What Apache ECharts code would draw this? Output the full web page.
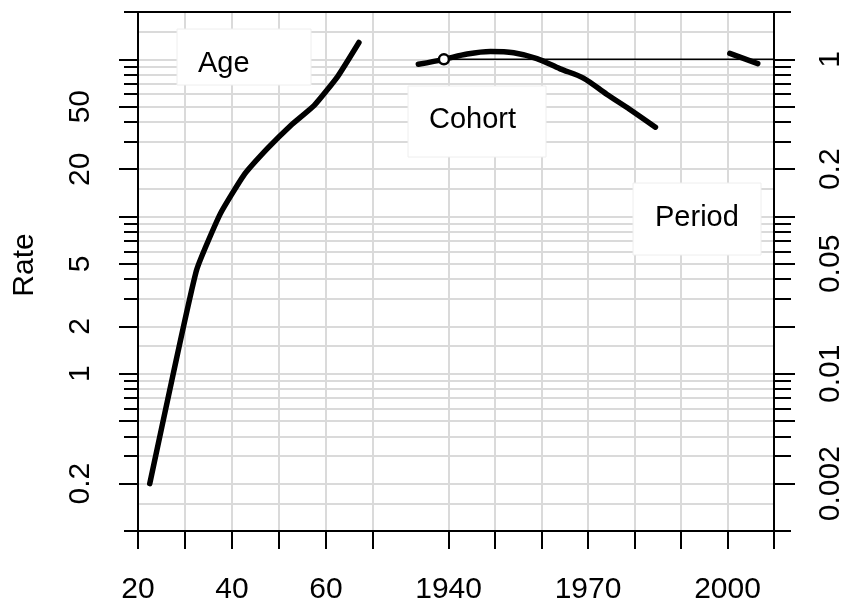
<!DOCTYPE html>
<html>
<head>
<meta charset="utf-8">
<title>APC</title>
<script src="https://cdn.jsdelivr.net/npm/echarts@6/dist/echarts.min.js"></script>
<style>
  html, body { margin: 0; padding: 0; background: #fff; }
  #apc_1 { width: 853px; height: 608px; }
</style>
</head>
<body>
<div id="apc_1"></div>
<script>
// age effect: rates
var ageX = [22.5, 27.5, 32.5, 37.5, 42.5, 47.5, 52.5, 57.5, 62.5, 67];
var ageRate = [0.2, 1.0, 4.6, 10.4, 18.3, 27, 38, 51, 78, 128];

// cohort effect: rate ratios, reference cohort marked with a circle
var cohortYear = [1933.5, 1939, 1944, 1949, 1954, 1959, 1964, 1969, 1974, 1979, 1984.5];
var cohortRR = [0.93, 1, 1.08, 1.12, 1.10, 1.01, 0.87, 0.76, 0.60, 0.48, 0.37];
var refCohort = 1939;

// period effect: rate ratios
var periodYear = [2000.5, 2006.5];
var periodRR = [1.09, 0.94];

// ticks and labels
var ageTicks = [20, 30, 40, 50, 60, 70];
var ageLabels = [20, 40, 60];
var calTicks = [1940, 1950, 1960, 1970, 1980, 1990, 2000, 2010];
var calLabels = [1940, 1970, 2000];
var rateMajor = [0.2, 0.5, 1, 2, 5, 10, 20, 50, 100];
var rateMinor = [0.1, 0.3, 0.4, 0.6, 0.7, 0.8, 0.9, 3, 4, 6, 7, 8, 9, 30, 40, 60, 70, 80, 90, 200];
var rateLabels = [0.2, 1, 2, 5, 20, 50];
var rrLabels = [0.002, 0.01, 0.05, 0.2, 1];
var rrRef = 100;

// light grid
var rateGrid = [0.15, 0.2, 0.3, 0.4, 0.5, 0.6, 0.7, 0.8, 0.9, 1, 1.5, 2, 3, 4, 5, 6, 7, 8, 9, 10,
                15, 20, 30, 40, 50, 60, 70, 80, 90, 100, 150];
var ageGrid = [30, 40, 50, 60, 70];
var calGrid = [1940, 1950, 1960, 1970, 1980, 1990, 2000];

window.onload = function () {
  apc();
};

function apc() {
  var myChart = echarts.init(document.getElementById('apc_1'));
  var FONT = '"Liberation Sans", Arial, Helvetica, sans-serif';
  var ink = '#000';
  var grey = '#dadada';

  function toRR(v) { return +(v / rrRef).toPrecision(6); }
  function txt(v) { return String(v); }
  function pairs(xs, ys) {
    var res = [];
    for (var i = 0; i < xs.length; i++) res.push([xs[i], ys[i]]);
    return res;
  }
  var rrMajor = rateMajor.map(toRR);
  var rrMinor = rateMinor.map(toRR);

  var lineAx = { show: true, onZero: false, lineStyle: { color: ink, width: 2 } };
  var tickStyle = { color: ink, width: 2 };
  var labStyle = { fontSize: 30, fontFamily: FONT, color: ink, margin: 42, formatter: txt };
  var xLabStyle = Object.assign({}, labStyle, { margin: 44 });
  var curve = { color: ink, width: 5.5, cap: 'round', join: 'round' };

  // grey grid lines, kept under the curves (markLine defaults to z 5)
  var gridMark = function (items) {
    return {
      silent: true,
      animation: false,
      z: 1,
      symbol: ['none', 'none'],
      label: { show: false },
      emphasis: { disabled: true },
      lineStyle: { color: grey, width: 2, type: 'solid' },
      data: items
    };
  };

  var option = {
    animation: false,
    grid: { left: 138, right: 79, top: 12, bottom: 77, containLabel: false, outerBoundsMode: 'none' },
    xAxis: [
      { // age
        type: 'value', position: 'bottom', min: 20, max: 155.3, z: 5,
        axisLine: lineAx,
        axisTick: { show: true, customValues: ageTicks, length: 18, lineStyle: tickStyle },
        axisLabel: Object.assign({ customValues: ageLabels }, xLabStyle),
        splitLine: { show: false }
      },
      { // calendar time
        type: 'value', position: 'bottom', min: 1873.2, max: 2010, z: 5,
        axisLine: lineAx,
        axisTick: { show: true, customValues: calTicks, length: 18, lineStyle: tickStyle },
        axisLabel: Object.assign({ customValues: calLabels }, xLabStyle),
        splitLine: { show: false }
      },
      { // top of the frame
        type: 'value', position: 'top', min: 0, max: 1, z: 5,
        axisLine: lineAx, axisTick: { show: false }, axisLabel: { show: false }, splitLine: { show: false }
      }
    ],
    yAxis: [
      { // rate
        type: 'log', logBase: 10, position: 'left', min: 0.1, max: 200, z: 5,
        axisLine: lineAx,
        axisTick: { show: true, customValues: rateMajor, length: 19, lineStyle: tickStyle },
        axisLabel: Object.assign({ customValues: rateLabels, rotate: 90 }, labStyle),
        splitLine: { show: false }
      },
      {
        type: 'log', logBase: 10, position: 'left', min: 0.1, max: 200, z: 5,
        axisLine: { show: false },
        axisTick: { show: true, customValues: rateMinor, length: 14, lineStyle: tickStyle },
        axisLabel: { show: false },
        splitLine: { show: false }
      },
      { // rate ratio
        type: 'log', logBase: 10, position: 'right', min: 0.001, max: 2, z: 5,
        axisLine: lineAx,
        axisTick: { show: true, customValues: rrMajor, length: 21, lineStyle: tickStyle },
        axisLabel: Object.assign({ customValues: rrLabels, rotate: 90 }, labStyle),
        splitLine: { show: false }
      },
      {
        type: 'log', logBase: 10, position: 'right', min: 0.001, max: 2, z: 5,
        axisLine: { show: false },
        axisTick: { show: true, customValues: rrMinor, length: 17, lineStyle: tickStyle },
        axisLabel: { show: false },
        splitLine: { show: false }
      }
    ],
    graphic: [
      { type: 'text', x: 25, y: 265, rotation: Math.PI / 2, z: 10,
        style: { text: 'Rate', font: '30px ' + FONT, fill: ink, align: 'center', verticalAlign: 'middle' } },
      { type: 'rect', x: 177, y: 29, shape: { width: 134, height: 56 }, z: 10,
        style: { fill: '#fff', stroke: '#eeeeee', lineWidth: 1 } },
      { type: 'text', x: 198, y: 64, z: 11,
        style: { text: 'Age', font: '29px ' + FONT, fill: ink, align: 'left', verticalAlign: 'middle' } },
      { type: 'rect', x: 408, y: 86, shape: { width: 138, height: 71 }, z: 10,
        style: { fill: '#fff', stroke: '#eeeeee', lineWidth: 1 } },
      { type: 'text', x: 429, y: 120, z: 11,
        style: { text: 'Cohort', font: '29px ' + FONT, fill: ink, align: 'left', verticalAlign: 'middle' } },
      { type: 'rect', x: 633, y: 183, shape: { width: 128, height: 72 }, z: 10,
        style: { fill: '#fff', stroke: '#eeeeee', lineWidth: 1 } },
      { type: 'text', x: 655, y: 218, z: 11,
        style: { text: 'Period', font: '29px ' + FONT, fill: ink, align: 'left', verticalAlign: 'middle' } }
    ],
    series: [
      {
        name: 'grid-age', type: 'line', xAxisIndex: 0, yAxisIndex: 0, data: [], z: 1, silent: true,
        markLine: gridMark(rateGrid.map(function (v) { return { yAxis: v }; })
          .concat(ageGrid.map(function (v) { return { xAxis: v }; })))
      },
      {
        name: 'grid-cal', type: 'line', xAxisIndex: 1, yAxisIndex: 2, data: [], z: 1, silent: true,
        markLine: gridMark(calGrid.map(function (v) { return { xAxis: v }; }))
      },
      {
        name: 'Age', type: 'line', xAxisIndex: 0, yAxisIndex: 0, z: 3,
        data: pairs(ageX, ageRate), symbol: 'none', smooth: 0.15,
        lineStyle: curve
      },
      {
        name: 'ref', type: 'line', xAxisIndex: 1, yAxisIndex: 2, z: 3,
        data: [[refCohort, 1], [calTicks[calTicks.length - 1], 1]], symbol: 'none',
        lineStyle: { color: ink, width: 1.5 }
      },
      {
        name: 'Cohort', type: 'line', xAxisIndex: 1, yAxisIndex: 2, z: 3,
        data: pairs(cohortYear, cohortRR), symbol: 'none', smooth: 0.3,
        lineStyle: curve
      },
      {
        name: 'Period', type: 'line', xAxisIndex: 1, yAxisIndex: 2, z: 3,
        data: pairs(periodYear, periodRR), symbol: 'none',
        lineStyle: curve
      },
      {
        name: 'refCohort', type: 'scatter', xAxisIndex: 1, yAxisIndex: 2, z: 4,
        data: [[refCohort, 1]], symbol: 'circle', symbolSize: 10,
        itemStyle: { color: '#fff', borderColor: ink, borderWidth: 2.5, opacity: 1 }
      }
    ]
  };

  myChart.setOption(option);
  window.addEventListener('resize', function () {
    myChart.resize();
  });
}
</script>
</body>
</html>
